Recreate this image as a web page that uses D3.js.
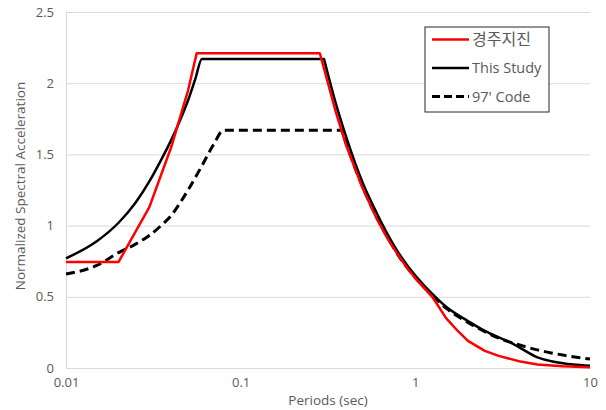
<!DOCTYPE html>
<html>
<head>
<meta charset="utf-8">
<script src="https://cdn.jsdelivr.net/npm/d3@7"></script>
<style>
  body { margin: 0; background: #fff; }
  text { font-family: "Open Sans", sans-serif; fill: #595959; }
</style>
</head>
<body>
<div id="chart"></div>
<script>
/* Periods (sec) and normalized spectral acceleration. */
let quakePeriods = [0.01, 0.02, 0.03, 0.04, 0.05, 0.056, 0.284, 0.35, 0.4, 0.5, 0.6, 0.7,
                    0.8, 0.9, 1.0, 1.25, 1.5, 1.75, 2.0, 2.5, 3.0, 4.0, 5.0, 7.0, 10];
let quakeValues  = [0.745, 0.745, 1.13, 1.55, 1.95, 2.21, 2.21, 1.80, 1.57, 1.26, 1.05, 0.90,
                    0.79, 0.70, 0.63, 0.50, 0.35, 0.26, 0.19, 0.12, 0.085, 0.045, 0.025, 0.012, 0.006];

let studyPeriods = [0.01, 0.015, 0.02, 0.025, 0.03, 0.035, 0.04, 0.045, 0.05, 0.055, 0.06, 0.30,
                    0.35, 0.4, 0.5, 0.6, 0.7, 0.8, 0.9, 1.0, 1.25, 1.5, 2.0, 2.5, 3.0, 3.5,
                    4, 5, 6, 7, 8, 10];
let studyValues  = [0.77, 0.89, 1.02, 1.16, 1.31, 1.46, 1.60, 1.74, 1.88, 2.03, 2.17, 2.17,
                    1.86, 1.63, 1.30, 1.09, 0.93, 0.81, 0.72, 0.65, 0.52, 0.43, 0.33, 0.26, 0.215, 0.18,
                    0.14, 0.075, 0.048, 0.033, 0.024, 0.015];

let codePeriods = [0.01, 0.015, 0.02, 0.025, 0.03, 0.035, 0.04, 0.045, 0.05, 0.06, 0.07, 0.08,
                   0.38, 0.45, 0.5, 0.6, 0.7, 0.8, 1.0, 1.25, 1.5, 2.0, 2.5, 3.0, 4.0, 5.0,
                   6.0, 7.0, 8.0, 10];
let codeValues  = [0.66, 0.72, 0.81, 0.87, 0.93, 1.0, 1.07, 1.16, 1.25, 1.42, 1.57, 1.67,
                   1.67, 1.41, 1.27, 1.06, 0.91, 0.79, 0.635, 0.51, 0.42, 0.32, 0.255, 0.21, 0.16, 0.127,
                   0.106, 0.091, 0.079, 0.063];

let xTicks = [0.01, 0.1, 1, 10];
let yTicks = [0, 0.5, 1, 1.5, 2, 2.5];
let seriesNames = ["경주지진", "This Study", "97' Code"];

let width = 606, height = 410;
let margins = {left: 66, right: 16, top: 12, bottom: 42};

let svg = d3.select("#chart").append("svg")
    .attr("width", width)
    .attr("height", height);

/* Log scale for the period, linear for the acceleration. */
let xscale = d3.scaleLog()
    .domain([0.01, 10])
    .range([margins.left, width - margins.right]);
let yscale = d3.scaleLinear()
    .domain([0, 2.5])
    .range([height - margins.bottom, margins.top]);

/* Horizontal gridlines, no ticks. */
let yaxis = d3.axisLeft(yscale)
    .tickValues(yTicks)
    .tickSize(-(width - margins.left - margins.right))
    .tickPadding(12)
    .tickFormat(d3.format("~g"));
let gy = svg.append("g")
    .attr("transform", "translate(" + margins.left + ", 0)")
    .call(yaxis);
gy.select(".domain").attr("stroke", "#d9d9d9");
gy.selectAll(".tick line").attr("stroke", "#d9d9d9");
gy.selectAll(".tick text")
    .style("font-size", "13px")
    .attr("fill", "#595959");

let xaxis = d3.axisBottom(xscale)
    .tickValues(xTicks)
    .tickSize(0)
    .tickPadding(10)
    .tickFormat(d3.format("~g"));
let gx = svg.append("g")
    .attr("transform", "translate(0, " + (height - margins.bottom) + ")")
    .call(xaxis);
gx.select(".domain").attr("stroke", "#d9d9d9");
gx.selectAll(".tick text")
    .style("font-size", "13px")
    .attr("fill", "#595959");

/* Axis titles. */
svg.append("text")
    .attr("x", (margins.left + width - margins.right) / 2)
    .attr("y", 405)
    .attr("text-anchor", "middle")
    .style("font-size", "13.5px")
    .text("Periods (sec)");
svg.append("text")
    .attr("transform", "translate(25, 186) rotate(-90)")
    .attr("text-anchor", "middle")
    .style("font-size", "13.5px")
    .text("Normalized Spectral Acceleration");

/* The recorded spectrum is drawn straight point to point.  The two design
   spectra are smooth, but keep sharp corners where the plateau ends, so
   they are drawn as one path made of two smooth pieces.
*/
let straight = d3.line()
    .x(d => xscale(d[0]))
    .y(d => yscale(d[1]));
let smooth = d3.line()
    .curve(d3.curveMonotoneX)
    .x(d => xscale(d[0]))
    .y(d => yscale(d[1]));

function designPath(periods, values) {
    let data = d3.zip(periods, values);
    let top = d3.max(values);
    let cut = values.lastIndexOf(top);
    let rise = data.slice(0, cut + 1);
    let fall = data.slice(cut);
    return smooth(rise) + smooth(fall).replace(/^M/, "L");
}

let series = [
    {d: designPath(codePeriods, codeValues), color: "#000", width: 3, dash: "9,5"},
    {d: designPath(studyPeriods, studyValues), color: "#000", width: 2.5, dash: null},
    {d: straight(d3.zip(quakePeriods, quakeValues)), color: "#ff0000", width: 2.5, dash: null}
];
series.forEach(s => {
    svg.append("path")
        .attr("d", s.d)
        .attr("fill", "none")
        .attr("stroke", s.color)
        .attr("stroke-width", s.width)
        .attr("stroke-dasharray", s.dash)
        .attr("stroke-linejoin", "round");
});

/* Legend box. */
let legend = svg.append("g").attr("transform", "translate(425, 27)");
legend.append("rect")
    .attr("width", 124)
    .attr("height", 85)
    .attr("fill", "#fff")
    .attr("stroke", "#262626")
    .attr("stroke-width", 1);
let legendStyles = [
    {color: "#ff0000", width: 2.5, dash: null},
    {color: "#000", width: 2.5, dash: null},
    {color: "#000", width: 3, dash: "8,4"}
];
seriesNames.forEach((name, i) => {
    let y = 12.5 + i * 28.5;
    legend.append("line")
        .attr("x1", 7).attr("x2", 44)
        .attr("y1", y).attr("y2", y)
        .attr("stroke", legendStyles[i].color)
        .attr("stroke-width", legendStyles[i].width)
        .attr("stroke-dasharray", legendStyles[i].dash);
    legend.append("text")
        .attr("x", 47)
        .attr("y", y)
        .attr("dy", "0.35em")
        .style("font-size", i === 0 ? "16px" : "14.5px")
        .style("font-family", i === 0 ? "'Noto Sans CJK KR', sans-serif" : null)
        .attr("fill", "#262626")
        .text(name);
});
</script>
</body>
</html>
